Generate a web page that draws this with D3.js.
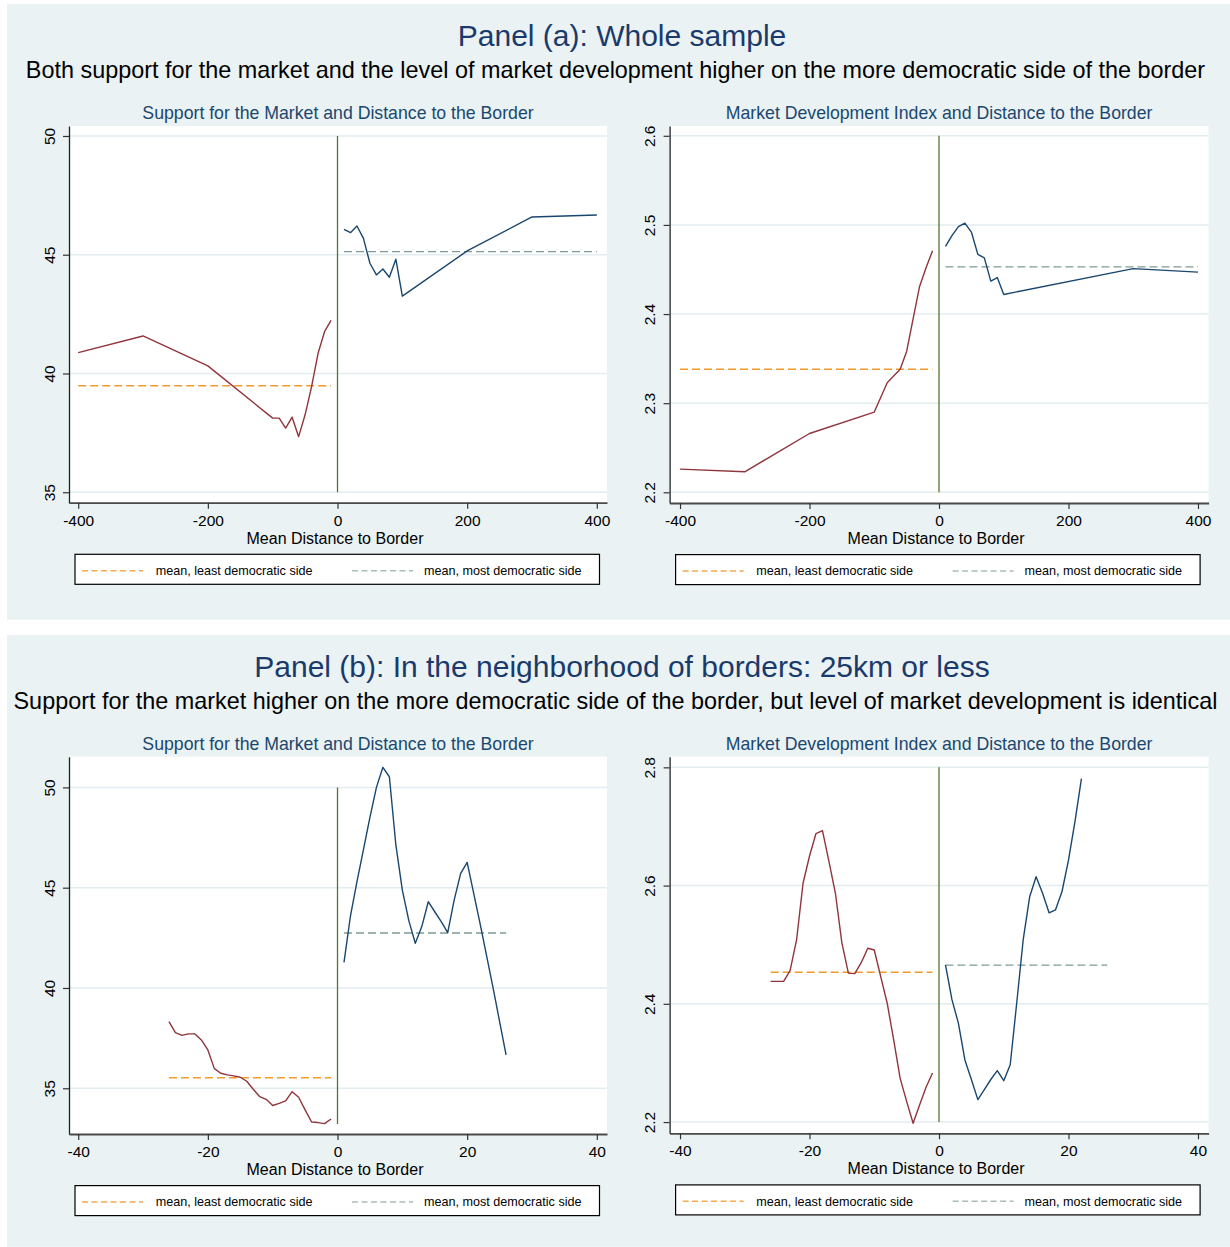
<!DOCTYPE html>
<html>
<head>
<meta charset="utf-8">
<script src="https://cdn.jsdelivr.net/npm/d3@7"></script>
<style>
  body { margin: 0; background: #fff; }
  svg { display: block; font-family: "Liberation Sans", Arial, sans-serif; }
</style>
</head>
<body>
<script>
// ---- DATA ----
const panelTitles = ["Panel (a): Whole sample", "Panel (b): In the neighborhood of borders: 25km or less"];
const panelSubtitles = [
  "Both support for the market and the level of market development higher on the more democratic side of the border",
  "Support for the market higher on the more democratic side of the border, but level of market development is identical"
];
const chartTitles = ["Support for the Market and Distance to the Border", "Market Development Index and Distance to the Border"];
const xAxisTitle = "Mean Distance to Border";
const legendLabels = ["mean, least democratic side", "mean, most democratic side"];

const wholeXTicks = [-400, -200, 0, 200, 400];
const nearXTicks = [-40, -20, 0, 20, 40];
const supportYTicks = [35, 40, 45, 50];
const wholeMarketYTicks = [2.2, 2.3, 2.4, 2.5, 2.6];
const nearMarketYTicks = [2.2, 2.4, 2.6, 2.8];

// Panel (a), support for the market
const wholeSupportLeftX = [-400, -300, -200, -100, -90, -80, -70, -60, -50, -40, -30, -20, -10];
const wholeSupportLeftY = [40.88, 41.58, 40.32, 38.12, 38.12, 37.70, 38.16, 37.34, 38.26, 39.45, 40.85, 41.76, 42.24];
const wholeSupportRightX = [10, 20, 30, 40, 50, 60, 70, 80, 90, 100, 200, 300, 400];
const wholeSupportRightY = [46.07, 45.93, 46.21, 45.69, 44.64, 44.15, 44.40, 44.05, 44.81, 43.26, 45.16, 46.59, 46.67];
const wholeSupportMeans = [39.48, 45.13];

// Panel (a), market development index
const wholeMarketLeftX = [-400, -300, -200, -100, -80, -60, -50, -30, -20, -10];
const wholeMarketLeftY = [2.226, 2.223, 2.266, 2.290, 2.323, 2.338, 2.358, 2.431, 2.452, 2.471];
const wholeMarketRightX = [10, 20, 30, 40, 50, 60, 70, 80, 90, 100, 300, 400];
const wholeMarketRightY = [2.476, 2.488, 2.498, 2.502, 2.492, 2.467, 2.463, 2.437, 2.441, 2.422, 2.451, 2.447];
const wholeMarketMeans = [2.338, 2.453];

// Panel (b), support for the market
const nearSupportLeftX = [-26, -25, -24, -23, -22, -21, -20, -19, -18, -17, -16, -15, -14, -13, -12, -11, -10, -9, -8, -7, -6, -5, -4, -3, -2, -1];
const nearSupportLeftY = [38.32, 37.77, 37.64, 37.71, 37.71, 37.41, 36.91, 35.98, 35.75, 35.67, 35.62, 35.55, 35.35, 34.95, 34.58, 34.45, 34.14, 34.25, 34.37, 34.83, 34.55, 33.92, 33.32, 33.29, 33.24, 33.47];
const nearSupportRightX = [1, 2, 3, 4, 5, 6, 7, 8, 9, 10, 11, 12, 13, 14, 15, 16, 17, 18, 19, 20, 22, 24, 26];
const nearSupportRightY = [41.28, 43.60, 45.30, 46.90, 48.50, 50.00, 51.00, 50.53, 47.13, 44.88, 43.36, 42.23, 43.06, 44.30, 43.80, 43.31, 42.76, 44.39, 45.71, 46.26, 43.20, 40.00, 36.66];
const nearSupportMeans = [35.53, 42.74];

// Panel (b), market development index
const nearMarketLeftX = [-26, -25, -24, -23, -22, -21, -20, -19, -18, -17, -16, -15, -14, -13, -12, -11, -10, -9, -8, -7, -6, -5, -4, -3, -2, -1];
const nearMarketLeftY = [2.438, 2.438, 2.438, 2.456, 2.508, 2.604, 2.650, 2.688, 2.693, 2.641, 2.587, 2.503, 2.452, 2.451, 2.470, 2.494, 2.491, 2.446, 2.401, 2.339, 2.274, 2.235, 2.198, 2.229, 2.259, 2.283];
const nearMarketRightX = [1, 2, 3, 4, 5, 6, 7, 8, 9, 10, 11, 12, 13, 14, 15, 16, 17, 18, 19, 20, 21, 22];
const nearMarketRightY = [2.466, 2.407, 2.367, 2.305, 2.272, 2.238, 2.255, 2.272, 2.287, 2.270, 2.297, 2.401, 2.508, 2.581, 2.615, 2.587, 2.554, 2.559, 2.590, 2.643, 2.708, 2.781];
const nearMarketMeans = [2.4535, 2.4653];

// ---- LAYOUT ----
const width = 1230, height = 1247;
const COL = {
  bg: "#eaf2f3", grid: "#e2edf0", left: "#90353b", right: "#1a476f",
  border: "#55752f", meanLeft: "#f39a2b", meanRight: "#7f9a95",
  title: "#1a3a6b", subTitle: "#1a476f"
};

const charts = [
  { title: chartTitles[0], left: 69, right: 607, top: 126, bottom: 502.7,
    xDomain: [-414.2, 415.7], yDomain: [34.56, 50.42], xTicks: wholeXTicks, yTicks: supportYTicks,
    lx: wholeSupportLeftX, ly: wholeSupportLeftY, rx: wholeSupportRightX, ry: wholeSupportRightY,
    means: wholeSupportMeans, leftSpan: [-400, -10], rightSpan: [10, 400], borderSpan: [35, 50] },
  { title: chartTitles[1], left: 669.6, right: 1208.6, top: 126, bottom: 503,
    xDomain: [-416.1, 416.4], yDomain: [2.188, 2.611], xTicks: wholeXTicks, yTicks: wholeMarketYTicks,
    lx: wholeMarketLeftX, ly: wholeMarketLeftY, rx: wholeMarketRightX, ry: wholeMarketRightY,
    means: wholeMarketMeans, leftSpan: [-400, -10], rightSpan: [10, 400], borderSpan: [2.2, 2.6] },
  { title: chartTitles[0], left: 69, right: 607, top: 756.7, bottom: 1134,
    xDomain: [-41.42, 41.57], yDomain: [32.72, 51.53], xTicks: nearXTicks, yTicks: supportYTicks,
    lx: nearSupportLeftX, ly: nearSupportLeftY, rx: nearSupportRightX, ry: nearSupportRightY,
    means: nearSupportMeans, leftSpan: [-26, -1], rightSpan: [1, 26], borderSpan: [33.22, 50] },
  { title: chartTitles[1], left: 669.6, right: 1208.6, top: 756.7, bottom: 1133.3,
    xDomain: [-41.61, 41.64], yDomain: [2.181, 2.818], xTicks: nearXTicks, yTicks: nearMarketYTicks,
    lx: nearMarketLeftX, ly: nearMarketLeftY, rx: nearMarketRightX, ry: nearMarketRightY,
    means: nearMarketMeans, leftSpan: [-26, -1], rightSpan: [1, 26], borderSpan: [2.2, 2.8] }
];

const svg = d3.select("body").append("svg")
  .attr("width", width)
  .attr("height", height);

svg.append("rect").attr("width", width).attr("height", height).attr("fill", "#fff");

// PANEL BACKGROUNDS AND TITLES
const panelBoxes = [{ y0: 4, y1: 619.7 }, { y0: 635, y1: 1246.7 }];
panelBoxes.forEach((p, i) => {
  const off = i * 631;
  svg.append("rect")
    .attr("x", 7).attr("y", p.y0)
    .attr("width", width - 7).attr("height", p.y1 - p.y0)
    .attr("fill", COL.bg);

  svg.append("text")
    .attr("x", 622).attr("y", 46 + off)
    .attr("text-anchor", "middle")
    .attr("font-size", "30px")
    .attr("fill", COL.title)
    .text(panelTitles[i]);

  svg.append("text")
    .attr("x", 615.5).attr("y", 78 + off)
    .attr("text-anchor", "middle")
    .attr("font-size", "23.4px")
    .attr("fill", "#000")
    .text(panelSubtitles[i]);
});

// DRAW EACH CHART
charts.forEach(c => {
  const x = d3.scaleLinear().domain(c.xDomain).range([c.left, c.right]);
  const y = d3.scaleLinear().domain(c.yDomain).range([c.bottom, c.top]);
  const g = svg.append("g");

  // plot region
  g.append("rect")
    .attr("x", c.left).attr("y", c.top)
    .attr("width", c.right - c.left).attr("height", c.bottom - c.top)
    .attr("fill", "#fff");

  // gridlines
  g.selectAll(".grid").data(c.yTicks).enter().append("line")
    .attr("x1", c.left).attr("x2", c.right)
    .attr("y1", d => y(d)).attr("y2", d => y(d))
    .attr("stroke", COL.grid).attr("stroke-width", 1.5);

  // chart title
  g.append("text")
    .attr("x", (c.left + c.right) / 2).attr("y", c.top - 7)
    .attr("text-anchor", "middle")
    .attr("font-size", "17.7px")
    .attr("fill", COL.subTitle)
    .text(c.title);

  // border at zero
  g.append("line")
    .attr("x1", x(0)).attr("x2", x(0))
    .attr("y1", y(c.borderSpan[0])).attr("y2", y(c.borderSpan[1]))
    .attr("stroke", COL.border).attr("stroke-width", 1.3);

  // means
  g.append("line")
    .attr("x1", x(c.leftSpan[0])).attr("x2", x(c.leftSpan[1]))
    .attr("y1", y(c.means[0])).attr("y2", y(c.means[0]))
    .attr("stroke", COL.meanLeft).attr("stroke-width", 1.5)
    .attr("stroke-dasharray", "8,4");
  g.append("line")
    .attr("x1", x(c.rightSpan[0])).attr("x2", x(c.rightSpan[1]))
    .attr("y1", y(c.means[1])).attr("y2", y(c.means[1]))
    .attr("stroke", COL.meanRight).attr("stroke-width", 1.3)
    .attr("stroke-dasharray", "8,4");

  // series
  const line = d3.line().x(d => x(d[0])).y(d => y(d[1]));
  g.append("path")
    .datum(c.lx.map((v, i) => [v, c.ly[i]]))
    .attr("d", line)
    .attr("fill", "none").attr("stroke", COL.left)
    .attr("stroke-width", 1.4).attr("stroke-linejoin", "round");
  g.append("path")
    .datum(c.rx.map((v, i) => [v, c.ry[i]]))
    .attr("d", line)
    .attr("fill", "none").attr("stroke", COL.right)
    .attr("stroke-width", 1.4).attr("stroke-linejoin", "round");

  // x axis
  const xAxis = g.append("g")
    .attr("transform", `translate(0,${c.bottom})`)
    .call(d3.axisBottom(x).tickValues(c.xTicks).tickSize(6).tickSizeOuter(0).tickFormat(d => String(d)));
  xAxis.select(".domain").attr("stroke", "#4a4a4a").attr("stroke-width", 1.8);
  xAxis.selectAll(".tick line").attr("stroke", "#333").attr("stroke-width", 1.2);
  xAxis.selectAll(".tick text")
    .attr("y", 12).attr("dy", "0.71em")
    .attr("font-size", "15.5px").attr("fill", "#000")
    .attr("font-family", "Liberation Sans, Arial, sans-serif");

  // y axis
  const yAxis = g.append("g")
    .attr("transform", `translate(${c.left},0)`)
    .call(d3.axisLeft(y).tickValues(c.yTicks).tickSize(6).tickSizeOuter(0).tickFormat(d => String(d)));
  yAxis.select(".domain").attr("stroke", "#222").attr("stroke-width", 1.3);
  yAxis.selectAll(".tick line").attr("stroke", "#333").attr("stroke-width", 1.2);
  yAxis.selectAll(".tick text")
    .attr("x", 0).attr("y", 0).attr("dy", "0.36em")
    .attr("transform", "translate(-20,0) rotate(-90)")
    .attr("text-anchor", "middle")
    .attr("font-size", "15.5px").attr("fill", "#000")
    .attr("font-family", "Liberation Sans, Arial, sans-serif");

  // x axis title
  g.append("text")
    .attr("x", (c.left + c.right) / 2 - 3).attr("y", c.bottom + 41)
    .attr("text-anchor", "middle")
    .attr("font-size", "16px").attr("fill", "#000")
    .text(xAxisTitle);

  // legend
  const lg = g.append("g").attr("transform", `translate(${c.left + 6},${c.bottom + 51.6})`);
  lg.append("rect")
    .attr("width", 524.5).attr("height", 30)
    .attr("fill", "#fff").attr("stroke", "#000").attr("stroke-width", 1.2);
  [[7, 68, 80.7, "#f6a94e"], [277, 338, 349, "#a9bcb9"]].forEach((s, i) => {
    lg.append("line")
      .attr("x1", s[0]).attr("x2", s[1]).attr("y1", 16.4).attr("y2", 16.4)
      .attr("stroke", s[3]).attr("stroke-width", 1.4).attr("stroke-dasharray", "6,3.5");
    lg.append("text")
      .attr("x", s[2]).attr("y", 20.8)
      .attr("font-size", "12.6px").attr("fill", "#000")
      .text(legendLabels[i]);
  });
});
</script>
</body>
</html>
